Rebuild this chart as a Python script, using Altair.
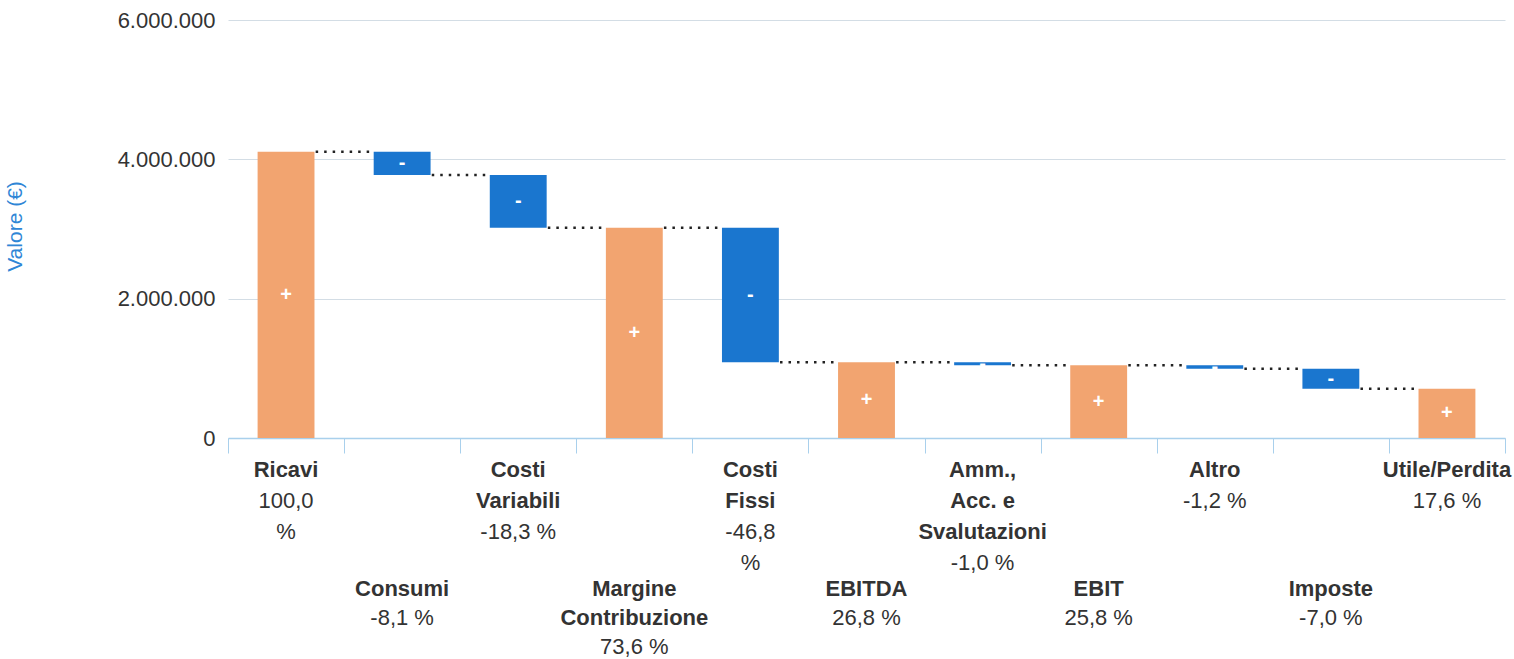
import altair as alt
import pandas as pd

categories = ["Ricavi", "Consumi", "Costi Variabili", "Margine Contribuzione", "Costi Fissi",
              "EBITDA", "Amm., Acc. e Svalutazioni", "EBIT", "Altro", "Imposte", "Utile/Perdita"]
# None marks a subtotal bar (drawn from zero to the running total)
changes = [4110000, -335000, -756000, None, -1933000, None, -41000, None, -50000, -289000, None]
name_lines = [["Ricavi"], ["Consumi"], ["Costi", "Variabili"], ["Margine", "Contribuzione"],
              ["Costi", "Fissi"], ["EBITDA"], ["Amm.,", "Acc. e", "Svalutazioni"], ["EBIT"],
              ["Altro"], ["Imposte"], ["Utile/Perdita"]]
pct_lines = [["100,0", "%"], ["-8,1 %"], ["-18,3 %"], ["73,6 %"], ["-46,8", "%"], ["26,8 %"],
             ["-1,0 %"], ["25,8 %"], ["-1,2 %"], ["-7,0 %"], ["17,6 %"]]
label_group = [0, 1, 0, 1, 0, 1, 0, 1, 0, 1, 0]

ORANGE = "#f2a470"
BLUE = "#1a76cf"

# waterfall table
rows = []
running = 0
for cat, ch in zip(categories, changes):
    if ch is None:
        start, end, kind = 0, running, "pos"
    else:
        start, end = running, running + ch
        running = end
        kind = "pos" if ch >= 0 else "neg"
    rows.append({"cat": cat, "start": start, "end": end, "kind": kind,
                 "mid": (start + end) / 2, "sign": "+" if kind == "pos" else "-"})
bars_df = pd.DataFrame(rows)

conn_df = pd.DataFrame([
    {"cat": categories[i], "next": categories[i + 1], "level": rows[i]["end"]}
    for i in range(len(categories) - 1)
])

# label lines below the axis
lab = []
for cat, nl, pl, g in zip(categories, name_lines, pct_lines, label_group):
    base, step = (450, 31) if g == 0 else (569, 29)
    k = 0
    for t in nl:
        lab.append({"cat": cat, "text": t, "bold": True, "ypix": base + step * k})
        k += 1
    for t in pl:
        lab.append({"cat": cat, "text": t, "bold": False, "ypix": base + step * k})
        k += 1
lab_df = pd.DataFrame(lab)

xscale = alt.Scale(domain=categories, paddingInner=0, paddingOuter=0)
yscale = alt.Scale(domain=[0, 6000000], nice=False)

bars = alt.Chart(bars_df).mark_bar(width=alt.RelativeBandSize(0.49)).encode(
    x=alt.X("cat:N", scale=xscale, sort=categories,
            axis=alt.Axis(labels=False, title=None, tickBand="extent", tickSize=15,
                          tickColor="#a9d0ec", domainColor="#a9d0ec", grid=False,
                          domainWidth=1.5, tickWidth=1)),
    y=alt.Y("start:Q", scale=yscale,
            axis=alt.Axis(values=[0, 2000000, 4000000, 6000000],
                          labelExpr="datum.value == 0 ? '0' : format(datum.value / 1000000, 'd') + '.000.000'",
                          grid=True, gridColor="#d3dde5", gridWidth=1.2, domain=False, ticks=False,
                          labelFontSize=22, labelColor="#333333", labelFont="Liberation Sans",
                          labelPadding=13, title="Valore (€)", titleColor="#2f86d6",
                          titleFontSize=21, titleFont="Liberation Sans", titleFontWeight="normal",
                          titleX=-213, titleY=206, titleBaseline="middle", titleAlign="center")),
    y2="end:Q",
    color=alt.Color("kind:N", scale=alt.Scale(domain=["pos", "neg"], range=[ORANGE, BLUE]), legend=None),
)

connectors = alt.Chart(conn_df).mark_rule(color="#222222", strokeWidth=2.5, strokeDash=[2.5, 6]).encode(
    x=alt.X("cat:N", scale=xscale, sort=categories, bandPosition=0.755),
    x2=alt.X2("next:N", bandPosition=0.245),
    y=alt.Y("level:Q", scale=yscale),
)

markers = alt.Chart(bars_df).mark_text(color="white", fontSize=20, fontWeight="bold",
                                       font="Liberation Sans", baseline="middle").encode(
    x=alt.X("cat:N", scale=xscale, sort=categories),
    y=alt.Y("mid:Q", scale=yscale),
    text="sign:N",
)

main = alt.layer(bars, connectors, markers)

label_y = alt.Y("ypix:Q", scale=alt.Scale(domain=[0, 418], range=[0, 418], nice=False, zero=False), axis=None)
bold_labels = alt.Chart(lab_df).transform_filter("datum.bold").mark_text(
    font="Liberation Sans", fontSize=22, fontWeight="bold", color="#333333",
    baseline="middle", align="center").encode(
    x=alt.X("cat:N", scale=xscale, sort=categories), y=label_y, text="text:N")
norm_labels = alt.Chart(lab_df).transform_filter("!datum.bold").mark_text(
    font="Liberation Sans", fontSize=22, color="#333333",
    baseline="middle", align="center").encode(
    x=alt.X("cat:N", scale=xscale, sort=categories), y=label_y, text="text:N")
labels = alt.layer(bold_labels, norm_labels)

chart = alt.layer(main, labels).resolve_scale(y="independent").properties(
    width=1277, height=418,
    autosize=alt.AutoSizeParams(type="none"),
    padding={"left": 228, "top": 20, "right": 9, "bottom": 221},
    background="white",
).configure_view(stroke=None)

chart.save("out.html", embed_options={"renderer": "svg", "actions": False})
